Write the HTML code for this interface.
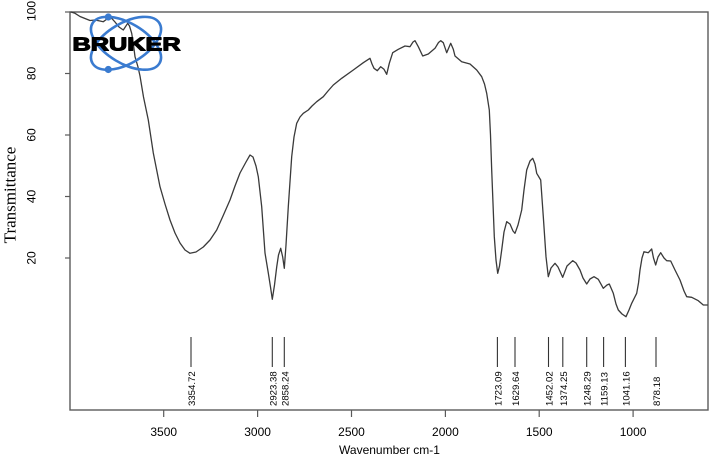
<!DOCTYPE html>
<html>
<head>
<meta charset="utf-8">
<style>
  html, body { margin: 0; padding: 0; background: #ffffff; }
  svg { display: block; }
</style>
</head>
<body>
<svg width="710" height="455" viewBox="0 0 710 455" xmlns="http://www.w3.org/2000/svg">
  <rect x="0" y="0" width="710" height="455" fill="#ffffff"/>

  <!-- Plot box -->
  <rect x="70" y="12" width="638" height="398" fill="none" stroke="#5a5a5a" stroke-width="1.4"/>

  <!-- Y ticks -->
  <g stroke="#5a5a5a" stroke-width="1.2">
    <line x1="65" y1="12" x2="70" y2="12"/>
    <line x1="65" y1="73.5" x2="70" y2="73.5"/>
    <line x1="65" y1="135" x2="70" y2="135"/>
    <line x1="65" y1="196.5" x2="70" y2="196.5"/>
    <line x1="65" y1="258" x2="70" y2="258"/>
  </g>
  <g font-family="Liberation Sans, Arial, sans-serif" font-size="12" fill="#000" text-anchor="middle">
    <text transform="translate(35.5,11) rotate(-90)">100</text>
    <text transform="translate(35.5,73.5) rotate(-90)">80</text>
    <text transform="translate(35.5,135) rotate(-90)">60</text>
    <text transform="translate(35.5,196.5) rotate(-90)">40</text>
    <text transform="translate(35.5,258) rotate(-90)">20</text>
  </g>
  <text transform="translate(15.5,195) rotate(-90)" font-family="Liberation Serif, Times New Roman, serif" font-size="17" text-anchor="middle" fill="#000">Transmittance</text>

  <!-- X ticks -->
  <g stroke="#5a5a5a" stroke-width="1.2">
    <line x1="163.7" y1="410" x2="163.7" y2="417"/>
    <line x1="257.6" y1="410" x2="257.6" y2="417"/>
    <line x1="351.5" y1="410" x2="351.5" y2="417"/>
    <line x1="445.4" y1="410" x2="445.4" y2="417"/>
    <line x1="539.2" y1="410" x2="539.2" y2="417"/>
    <line x1="633.1" y1="410" x2="633.1" y2="417"/>
  </g>
  <g font-family="Liberation Sans, Arial, sans-serif" font-size="12" fill="#000" text-anchor="middle">
    <text x="163.7" y="436">3500</text>
    <text x="257.6" y="436">3000</text>
    <text x="351.5" y="436">2500</text>
    <text x="445.4" y="436">2000</text>
    <text x="539.2" y="436">1500</text>
    <text x="633.1" y="436">1000</text>
    <text x="389.5" y="454">Wavenumber cm-1</text>
  </g>

  <!-- Peak marker lines -->
  <g stroke="#333" stroke-width="1.1">
    <line x1="191" y1="337" x2="191" y2="367"/>
    <line x1="272.3" y1="337" x2="272.3" y2="367"/>
    <line x1="284.3" y1="337" x2="284.3" y2="367"/>
    <line x1="497.4" y1="337" x2="497.4" y2="367"/>
    <line x1="515" y1="337" x2="515" y2="367"/>
    <line x1="548.5" y1="337" x2="548.5" y2="367"/>
    <line x1="562.8" y1="337" x2="562.8" y2="367"/>
    <line x1="586.7" y1="337" x2="586.7" y2="367"/>
    <line x1="603.6" y1="337" x2="603.6" y2="367"/>
    <line x1="625.4" y1="337" x2="625.4" y2="367"/>
    <line x1="656" y1="337" x2="656" y2="367"/>
  </g>
  <g font-family="Liberation Sans, Arial, sans-serif" font-size="9.6" fill="#000">
    <text transform="translate(195,406) rotate(-90)">3354.72</text>
    <text transform="translate(276.3,406) rotate(-90)">2923.38</text>
    <text transform="translate(288.3,406) rotate(-90)">2858.24</text>
    <text transform="translate(501.4,406) rotate(-90)">1723.09</text>
    <text transform="translate(519,406) rotate(-90)">1629.64</text>
    <text transform="translate(552.5,406) rotate(-90)">1452.02</text>
    <text transform="translate(566.8,406) rotate(-90)">1374.25</text>
    <text transform="translate(590.7,406) rotate(-90)">1248.29</text>
    <text transform="translate(607.6,406) rotate(-90)">1159.13</text>
    <text transform="translate(629.4,406) rotate(-90)">1041.16</text>
    <text transform="translate(660,406) rotate(-90)">878.18</text>
  </g>

  <!-- Spectrum -->
  <polyline fill="none" stroke="#3a3a3a" stroke-width="1.3" stroke-linejoin="round" stroke-linecap="round"
    points="71,12 75,13.3 80,16.5 85,18.5 90,20.5 95,20 100,21 103.3,21.7 107,19 111.7,18.3 115,22 119,27 123.3,30 127.7,23.3 129.5,26 131.7,33.3 133.5,45 135,56.7 138,67 140,76 141.5,85 143.5,97 148.3,120 153.3,153 160,186.7 165,204 170,220 175,233 180,243 185,250 190,253.3 196,252 203.3,247 210,240 216.7,230 223,216 230,200 235,186 240,173 246,162 250,155 253,157 256,166 258.3,176.7 261.7,206.7 265,253 268.3,273 270.5,287 272.3,299.3 274.5,285 276.7,267 278.5,255 280.7,248.3 282.7,257 284.3,268.3 286,245 288.3,206.7 291.7,156.7 294,137 296.7,123.3 300,117 303.3,113.3 308.3,110 312,106 316.7,101.7 323.3,96.7 328,91 333.3,85 341.7,78.3 353.3,70 363.3,62.7 370,58.3 372,64 374,68.3 377.3,70.7 380.7,66.7 384,69.3 386.7,74.3 389.3,63.3 392.7,52.7 398.3,49.3 405,46 410,46.7 413,42 415,40.7 418.3,46.7 422.7,56 428.3,54 435,48.3 438.5,42.5 440.7,40.7 443.3,42.7 446.7,52.7 450.7,43.3 453.3,49.3 455,56 461.7,61.7 470,64 476.7,70 481.7,76.7 484.5,84 486.7,93.3 489.3,110 490.5,135 491.7,170 494.3,236.7 496,260 497.7,273.3 499.5,266 501.7,250 504,232 506.7,221.7 510,224 513,231 515,233.3 518,225 521.7,210 524,190 526.7,170 530,161 532.7,158.3 535,164 536.7,173.3 540.7,180 543.3,216.7 546,256.7 548.3,276.7 551,268 555,263.3 558,267 562.7,277.3 567,266 572.7,260.7 576,263 580,270 583,278 586.7,284 590,279 594,276.7 598.3,279.3 603.3,288.3 607,285 609.3,284 613.3,293.3 616,304 618.3,310 622,314 626,316.7 629,310 631.7,303.3 636.7,293.3 638.5,283 640,270 642,258 644,251.7 648.3,252.7 651.7,249 653.5,258 655.7,265 658,257 660.7,252.7 664,258 666.7,260.7 670.7,261 675,270 680,280 684,291 686.7,296.7 691.7,297.3 698.3,300.7 703.3,305 707.3,305"/>

  <!-- Bruker logo -->
  <g fill="none" stroke="#3a7bd0" stroke-width="2.6">
    <ellipse cx="126" cy="43.3" rx="39" ry="20" transform="rotate(31 126 43.3)"/>
    <ellipse cx="126" cy="43.3" rx="39" ry="20" transform="rotate(-31 126 43.3)"/>
  </g>
  <circle cx="108.3" cy="17" r="3.6" fill="#3a7bd0"/>
  <circle cx="108.3" cy="69.5" r="3.6" fill="#3a7bd0"/>
  <text transform="translate(72.5,50.7) scale(1.36,1)" font-family="Liberation Sans, Arial, sans-serif" font-weight="bold" font-size="18.6" fill="#000" stroke="#000" stroke-width="1.1" stroke-linejoin="round">BRUKER</text>
</svg>
</body>
</html>
